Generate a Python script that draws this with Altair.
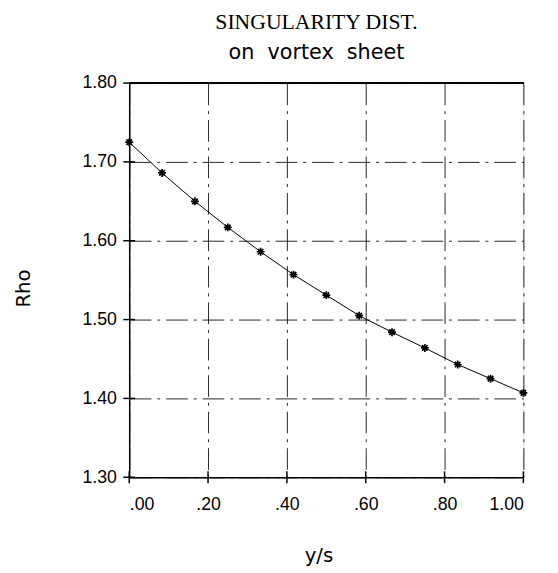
import altair as alt
import pandas as pd

# Data
y_over_s = [0.0, 1/12, 2/12, 3/12, 4/12, 5/12, 6/12, 7/12, 8/12, 9/12, 10/12, 11/12, 1.0]
rho = [1.725, 1.686, 1.650, 1.617, 1.586, 1.557, 1.531, 1.505, 1.484, 1.464, 1.443, 1.425, 1.407]

x_tick_values = [0.0, 0.2, 0.4, 0.6, 0.8, 1.0]
x_tick_labels = [".00", ".20", ".40", ".60", ".80", "1.00"]
y_tick_values = [1.3, 1.4, 1.5, 1.6, 1.7, 1.8]
y_tick_labels = ["1.30", "1.40", "1.50", "1.60", "1.70", "1.80"]

df = pd.DataFrame({"x": y_over_s, "rho": rho})
xt = pd.DataFrame({"x": x_tick_values})
yt = pd.DataFrame({"rho": y_tick_values})


def label_expr(values, labels):
    expr = "''"
    for v, l in zip(reversed(values), reversed(labels)):
        expr = f"abs(datum.value - {v}) < 1e-6 ? '{l}' : ({expr})"
    return expr


grid_dash = [22, 6, 3, 6]
label_font = "Liberation Sans"
title_font = "DejaVu Sans"

x_scale = alt.Scale(domain=[0, 1], nice=False, zero=False)
y_scale = alt.Scale(domain=[1.3, 1.8], nice=False, zero=False)

x_enc = alt.X(
    "x:Q",
    scale=x_scale,
    axis=alt.Axis(
        values=x_tick_values,
        labelExpr=label_expr(x_tick_values, x_tick_labels),
        title="y/s",
        titleFont=title_font,
        titleFontSize=20,
        titleFontWeight="normal",
        titleColor="black",
        titleX=192,
        titleY=80,
        titleBaseline="middle",
        labelFont=label_font,
        labelFontSize=18,
        labelColor="black",
        labelPadding=19,
        ticks=False,
        domainColor="black",
        domainWidth=1.5,
        gridColor="black",
        gridDash=grid_dash,
        gridWidth=1,
        gridOpacity=0.85,
    ),
)

y_enc = alt.Y(
    "rho:Q",
    scale=y_scale,
    axis=alt.Axis(
        values=y_tick_values,
        labelExpr=label_expr(y_tick_values, y_tick_labels),
        title="Rho",
        titleFont=title_font,
        titleFontSize=20,
        titleFontWeight="normal",
        titleColor="black",
        titleAngle=-90,
        titleX=-107,
        titleY=208,
        titleBaseline="middle",
        titleAlign="center",
        labelFont=label_font,
        labelFontSize=18,
        labelColor="black",
        labelPadding=13,
        ticks=False,
        domainColor="black",
        domainWidth=1.5,
        gridColor="black",
        gridDash=grid_dash,
        gridWidth=1,
        gridOpacity=0.85,
    ),
)

line = alt.Chart(df).mark_line(color="black", strokeWidth=1).encode(x=x_enc, y=y_enc)

star = "M-1,0L1,0M0,-1L0,1M-0.7,-0.7L0.7,0.7M-0.7,0.7L0.7,-0.7"
points = alt.Chart(df).mark_point(
    shape=star, size=64, filled=False, color="black", strokeWidth=1.7, opacity=1
).encode(x="x:Q", y="rho:Q")

top_rule = alt.Chart(df).mark_rule(color="black", strokeWidth=1.5).encode(
    x=alt.value(0), x2=alt.value(400), y=alt.value(0)
)

# cross-shaped ticks straddling the axes
x_ticks = alt.Chart(xt).mark_rule(color="black", strokeWidth=1.5).encode(
    x=alt.X("x:Q", scale=x_scale), y=alt.value(394), y2=alt.value(406)
)
y_ticks = alt.Chart(yt).mark_rule(color="black", strokeWidth=1.5).encode(
    y=alt.Y("rho:Q", scale=y_scale), x=alt.value(-6), x2=alt.value(6)
)

chart = (
    alt.layer(line, points, top_rule, x_ticks, y_ticks)
    .properties(
        width=400,
        height=400,
        padding={"left": 123, "top": 72, "right": 27, "bottom": 93},
        autosize=alt.AutoSizeParams(type="none"),
        title=alt.TitleParams(
            text="SINGULARITY DIST.",
            subtitle="on\u00a0\u00a0vortex\u00a0\u00a0sheet",
            font="Liberation Serif",
            fontSize=22,
            fontWeight="normal",
            color="black",
            subtitleFont="DejaVu Sans",
            subtitleFontSize=21,
            subtitleColor="black",
            subtitlePadding=9,
            anchor="middle",
            dx=-10,
            offset=10,
        ),
    )
    .configure_view(stroke=None)
    .configure(background="white")
)

chart.save("out.html", embed_options={"renderer": "svg", "actions": False})
